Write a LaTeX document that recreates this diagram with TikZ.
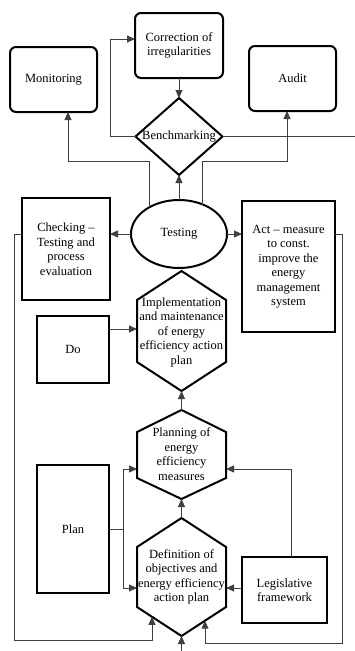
\documentclass[tikz,border=0pt]{standalone}
\usepackage{fontspec}
\setmainfont{Liberation Serif}
\usetikzlibrary{shapes.geometric,arrows.meta,calc}
\begin{document}
\begin{tikzpicture}[x=1pt,y=-1pt,
  every node/.style={font=\fontsize{12.5}{14.5}\selectfont, align=center, inner sep=0pt, outer sep=0pt},
  boxa/.style={draw=black, line width=2pt, rounded corners=6pt},
  boxb/.style={draw=black, line width=2pt},
  shp/.style={draw=black, line width=2pt, line join=miter},
  conn/.style={draw=black!75, line width=0.9pt},
  arr/.style={conn, -{Triangle[length=8pt,width=7pt]}}]
\useasboundingbox (0,0) rectangle (355,651);

% rounded boxes
\node[boxa, minimum width=88pt, minimum height=65pt] (corr) at (179,45.5) {Correction of\\irregularities};
\node[boxa, minimum width=87pt, minimum height=65pt] (mon) at (53.5,79.5) {Monitoring};
\node[boxa, minimum width=87pt, minimum height=65pt] (aud) at (292.5,78.5) {Audit};

% diamond
\coordinate (bT) at (179,98);
\coordinate (bR) at (222.5,136.5);
\coordinate (bB) at (179,175);
\coordinate (bL) at (135.5,136.5);
\draw[shp] (bT) -- (bR) -- (bB) -- (bL) -- cycle;
\node (bench) at (179,136.5) {Benchmarking};

% ellipse
\node[ellipse, draw=black, line width=2pt, minimum width=96pt, minimum height=68pt] (test) at (179,234) {Testing};

% side boxes
\node[boxb, minimum width=88pt, minimum height=102pt] (chk) at (66,249) {Checking --\\Testing and\\process\\evaluation};
\node[boxb, minimum width=93pt, minimum height=131pt] (act) at (288.5,266.5) {Act -- measure\\to const.\\improve the\\energy\\management\\system};
\node[boxb, minimum width=72pt, minimum height=67pt] (do) at (73,349.5) {Do};
\node[boxb, minimum width=72pt, minimum height=128pt] (plan) at (73,529) {Plan};
\node[boxb, minimum width=85pt, minimum height=66pt] (leg) at (284.5,590) {Legislative\\framework};

% hexagons
\coordinate (iT) at (181.5,271);  \coordinate (iUR) at (226,300); \coordinate (iLR) at (226,362);
\coordinate (iB) at (181.5,391);  \coordinate (iLL) at (137,362); \coordinate (iUL) at (137,300);
\draw[shp] (iT) -- (iUR) -- (iLR) -- (iB) -- (iLL) -- (iUL) -- cycle;
\node (impl) at (181.5,332) {Implementation\\and maintenance\\of energy\\efficiency action\\plan};

\coordinate (pT) at (181.5,410);  \coordinate (pUR) at (226,432); \coordinate (pLR) at (226,478);
\coordinate (pB) at (181.5,499);  \coordinate (pLL) at (137,478); \coordinate (pUL) at (137,432);
\draw[shp] (pT) -- (pUR) -- (pLR) -- (pB) -- (pLL) -- (pUL) -- cycle;
\node (pln) at (181.5,454) {Planning of\\energy\\efficiency\\measures};

\coordinate (dT) at (181.5,518);  \coordinate (dUR) at (226,547); \coordinate (dLR) at (226,607);
\coordinate (dB) at (181.5,636);  \coordinate (dLL) at (137,607); \coordinate (dUL) at (137,547);
\draw[shp] (dT) -- (dUR) -- (dLR) -- (dB) -- (dLL) -- (dUL) -- cycle;
\node (def) at (181.5,577) {Definition of\\objectives and\\energy efficiency\\action plan};

% helper coordinates
\coordinate (k1) at (110,39);
\coordinate (edgeR) at (355,136.5);
\coordinate (mL) at (68,161);
\coordinate (aR) at (287,161);
\coordinate (lx) at (14,640);
\coordinate (rx) at (342,643);
\coordinate (doY) at (0,329);
\coordinate (pj) at (123,529);
\coordinate (pup) at (123,469);
\coordinate (pdn) at (123,588);
\coordinate (lgUp) at (291,469);
\coordinate (bottom) at (181.5,651);
\coordinate (dInL) at ($(dLL)!0.337!(dB)$);
\coordinate (dInR) at ($(dLR)!0.472!(dB)$);

% connectors
\draw[arr] (corr.south) -- (bT);
\draw[arr] (bL) -| (k1) -- (corr.west |- k1);
\draw[conn] (bR) -- (edgeR);
\draw[arr] (test.north) -- (bB);
\draw[arr] (test.138) |- (mL) -- (mon.south -| mL);
\draw[arr] (test.51) |- (aR) -- (aud.south -| aR);
\draw[arr] (test.west) -- (chk.east |- test.west);
\draw[arr] (test.east) -- (act.west |- test.east);
\draw[arr] (chk.west |- test.west) -| (lx) -| (dInL);
\draw[arr] (act.east |- test.east) -| (rx) -| (dInR);
\draw[arr] (do.east |- doY) -- (iUL |- doY);
\draw[arr] (pT) -- (iB);
\draw[arr] (dT) -- (pB);
\draw[arr] (bottom) -- (dB);
\draw[conn] (plan.east |- pj) -- (pj);
\draw[arr] (pj) -- (pup) -- (pUL |- pup);
\draw[arr] (pj) -- (pdn) -- (dUL |- pdn);
\draw[arr] (leg.west |- pdn) -- (dUR |- pdn);
\draw[arr] (leg.north -| lgUp) -- (lgUp) -- (pUR |- lgUp);
\end{tikzpicture}
\end{document}
